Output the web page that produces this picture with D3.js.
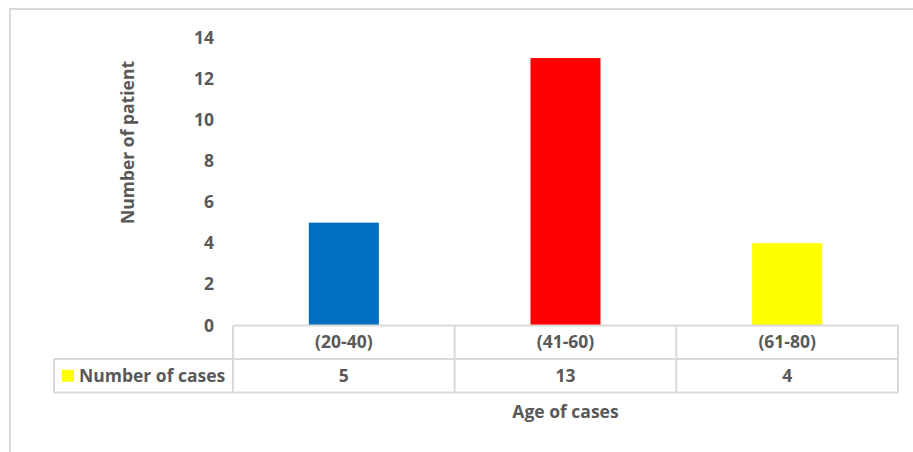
<!DOCTYPE html>
<html>
<head>
<meta charset="utf-8">
<script src="https://cdn.jsdelivr.net/npm/d3@7"></script>
<style>
  html, body { margin: 0; padding: 0; background: #fff; }
  svg text { font-family: "Open Sans", Lato, sans-serif; font-weight: bold; fill: #595959; }
</style>
</head>
<body>
<svg id="chart" width="913" height="452"></svg>
<script>
// Age groups and patient counts
const categories = ["(20-40)", "(41-60)", "(61-80)"];
const cases = [5, 13, 4];
const barColors = ["#0070C0", "#FF0000", "#FFFF00"];
const yTicks = [0, 2, 4, 6, 8, 10, 12, 14];
const seriesName = "Number of cases";
const xTitle = "Age of cases";
const yTitle = "Number of patient";

const svg = d3.select("#chart");
const gridColor = "#d9d9d9";
const fontSize = 17.5;

// chart frame (top and left edges visible)
svg.append("path")
  .attr("d", "M10,460 V9 H920")
  .attr("fill", "none")
  .attr("stroke", gridColor)
  .attr("stroke-width", 2);

const plot = { left: 233, right: 898, top: 37.5, bottom: 325.5 };
const rowH = 33.5;

const x = d3.scaleBand()
  .domain(categories)
  .range([plot.left, plot.right])
  .paddingInner(0)
  .paddingOuter(0);

const y = d3.scaleLinear()
  .domain([0, 14])
  .range([plot.bottom, plot.top]);

// bars
const barW = x.bandwidth() * 0.316;
svg.append("g").selectAll("rect")
  .data(categories)
  .join("rect")
  .attr("x", (d) => x(d) + (x.bandwidth() - barW) / 2)
  .attr("y", (d, i) => y(cases[i]))
  .attr("width", barW)
  .attr("height", (d, i) => y(0) - y(cases[i]))
  .attr("fill", (d, i) => barColors[i]);

// y axis tick labels
const yAxis = d3.axisLeft(y).tickValues(yTicks).tickSize(0).tickPadding(0);
const gy = svg.append("g")
  .attr("transform", `translate(${plot.left - 19},0)`)
  .call(yAxis);
gy.select(".domain").remove();
gy.selectAll("text")
  .attr("font-size", fontSize)
  .attr("font-family", null)
  .attr("fill", null);

// data table
const tbl = svg.append("g").attr("stroke", gridColor).attr("stroke-width", 2).attr("fill", "none");
const legendLeft = 54;
const r0 = plot.bottom, r1 = r0 + rowH, r2 = r1 + rowH;
// horizontal lines
tbl.append("line").attr("x1", plot.left).attr("x2", plot.right).attr("y1", r0).attr("y2", r0);
tbl.append("line").attr("x1", legendLeft).attr("x2", plot.right).attr("y1", r1).attr("y2", r1);
tbl.append("line").attr("x1", legendLeft).attr("x2", plot.right).attr("y1", r2).attr("y2", r2);
// vertical lines
tbl.append("line").attr("x1", legendLeft).attr("x2", legendLeft).attr("y1", r1).attr("y2", r2);
const cols = categories.map((c) => x(c)).concat([plot.right]);
cols.forEach((cx) => {
  tbl.append("line").attr("x1", cx).attr("x2", cx).attr("y1", r0).attr("y2", r2);
});

// category labels row
svg.append("g").selectAll("text")
  .data(categories)
  .join("text")
  .attr("x", (d) => x(d) + x.bandwidth() / 2)
  .attr("y", (r0 + r1) / 2)
  .attr("dy", "0.35em")
  .attr("text-anchor", "middle")
  .attr("font-size", fontSize)
  .text((d) => d);

// values row
svg.append("g").selectAll("text")
  .data(categories)
  .join("text")
  .attr("x", (d) => x(d) + x.bandwidth() / 2)
  .attr("y", (r1 + r2) / 2)
  .attr("dy", "0.35em")
  .attr("text-anchor", "middle")
  .attr("font-size", fontSize)
  .text((d, i) => cases[i]);

// legend key in the table
svg.append("rect")
  .attr("x", 62).attr("y", (r1 + r2) / 2 - 6)
  .attr("width", 12).attr("height", 12)
  .attr("fill", barColors[2]);
svg.append("text")
  .attr("x", 79)
  .attr("y", (r1 + r2) / 2)
  .attr("dy", "0.35em")
  .attr("font-size", fontSize)
  .text(seriesName);

// axis titles
svg.append("text")
  .attr("x", (plot.left + plot.right) / 2)
  .attr("y", 412)
  .attr("dy", "0.35em")
  .attr("text-anchor", "middle")
  .attr("font-size", fontSize)
  .text(xTitle);

svg.append("text")
  .attr("transform", "translate(128,142.5) rotate(-90)")
  .attr("dy", "0.35em")
  .attr("text-anchor", "middle")
  .attr("font-size", fontSize)
  .text(yTitle);
</script>
</body>
</html>
